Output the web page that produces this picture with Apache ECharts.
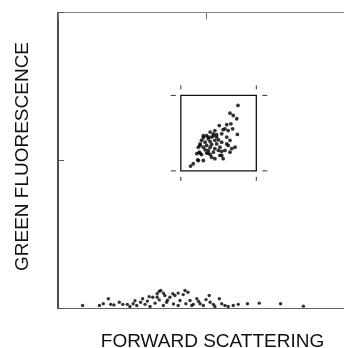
<!DOCTYPE html>
<html>
<head>
<meta charset="utf-8">
<script src="https://cdn.jsdelivr.net/npm/echarts@6/dist/echarts.min.js"></script>
<style>
  html, body { margin: 0; padding: 0; background: #fff; }
</style>
</head>
<body>
<div id="chart" style="width: 344px;height:348px;"></div>
<script type="text/javascript">
	// gated cell population (x = forward scatter, y = green fluorescence)
	var clusterPts = [
		[60.8, 68.6], [58.1, 66.0], [59.2, 65.2], [60.4, 64.1], [58.4, 62.4], [57.0, 62.1],
		[54.5, 61.8], [59.0, 60.7], [57.5, 60.1], [55.8, 60.4], [53.0, 60.1], [51.4, 59.6],
		[55.3, 59.0], [53.6, 58.7], [52.5, 58.4], [50.2, 58.4], [51.9, 57.9], [49.1, 57.7],
		[50.8, 57.3], [54.2, 57.0], [53.0, 56.8], [51.4, 56.4], [49.7, 56.2], [48.5, 56.8],
		[58.1, 56.8], [60.6, 58.8], [57.0, 55.6], [55.3, 56.2], [53.6, 55.6], [51.9, 55.4],
		[50.2, 55.1], [48.0, 55.1], [49.1, 54.5], [51.4, 54.5], [53.0, 54.0], [54.7, 54.5],
		[57.5, 55.1], [58.7, 54.0], [56.4, 53.4], [55.3, 53.1], [50.8, 53.4], [49.7, 53.6],
		[47.7, 52.8], [52.5, 52.8], [51.4, 52.0], [50.2, 52.5], [58.1, 52.8], [48.5, 52.0],
		[46.9, 52.3], [54.7, 51.7], [51.9, 51.1], [53.0, 50.6], [55.8, 50.6], [47.2, 50.2],
		[49.1, 50.0], [44.8, 48.1], [45.7, 48.9], [47.4, 54.5], [59.8, 54.5], [56.4, 60.7],
		[52.5, 59.0], [50.8, 57.9], [57.0, 57.9], [48.0, 55.6], [54.2, 53.4], [50.8, 52.5],
		[55.3, 51.7], [49.1, 58.4], [47.4, 50.0], [48.0, 52.5], [53.6, 57.9]
	];
	// debris near the baseline
	var debrisPts = [
		[8.3, 1.0], [14.0, 1.0], [15.3, 1.6], [17.0, 3.3], [17.8, 1.4], [20.7, 2.1], [21.9, 1.4],
		[23.4, 1.4], [24.3, 0.7], [25.4, 1.6], [26.6, 1.0], [27.9, 2.1], [28.6, 3.3], [29.4, 1.4],
		[30.2, 2.5], [31.1, 0.7], [32.0, 3.8], [32.8, 1.8], [33.5, 5.0], [34.2, 2.9], [34.7, 6.1],
		[35.6, 1.0], [36.1, 4.4], [36.7, 2.1], [37.8, 3.8], [38.8, 5.0], [39.5, 4.4], [40.6, 1.0],
		[41.2, 2.7], [42.3, 4.7], [42.9, 6.1], [43.2, 1.6], [44.6, 2.7], [45.2, 1.0], [45.7, 1.4],
		[46.9, 3.3], [48.0, 1.6], [49.1, 1.0], [51.1, 4.4], [51.4, 2.1], [52.5, 1.4], [53.0, 0.7],
		[54.5, 3.3], [55.3, 1.6], [56.4, 1.0], [57.5, 0.7], [59.2, 1.0], [60.9, 1.4], [64.0, 1.6],
		[68.0, 1.8], [75.2, 1.6], [82.9, 0.8], [34.2, 5.8], [35.6, 5.2], [40.6, 5.2], [43.9, 5.5],
		[33.5, 3.8], [30.8, 4.0], [37.0, 2.8], [39.0, 1.5], [47.5, 2.4], [50.0, 3.0], [26.0, 2.6],
		[18.9, 1.2]
	];
	// gate rectangle: [xMin, xMax, yMin, yMax]
	var gateBox = [41.5, 67, 46.5, 72];
	var axisMin = 0, axisMax = 100, axisStep = 50;
	var xTitle = 'FORWARD SCATTERING';
	var yTitle = 'GREEN FLUORESCENCE';

	var chart = echarts.init(document.getElementById('chart'), null, { renderer: 'canvas' });

	var titleFont = {
		fontFamily: 'Liberation Sans',
		fontSize: 19,
		color: '#111'
	};

	function renderGate(params, api) {
		var p0 = api.coord([gateBox[0], gateBox[3]]);
		var p1 = api.coord([gateBox[1], gateBox[2]]);
		var x0 = p0[0], y0 = p0[1], x1 = p1[0], y1 = p1[1];
		var tickStyle = { stroke: '#333', lineWidth: 1 };
		var ticks = [];
		// short marks outside each corner
		[x0, x1].forEach(function(x) {
			ticks.push([x, y0 - 10, x, y0 - 6]);
			ticks.push([x, y1 + 6, x, y1 + 10]);
		});
		[y0, y1].forEach(function(y) {
			ticks.push([x0 - 10, y, x0 - 5, y]);
			ticks.push([x1 + 6, y, x1 + 11, y]);
		});
		var children = [{
			type: 'rect',
			shape: { x: x0, y: y0, width: x1 - x0, height: y1 - y0 },
			style: { fill: 'none', stroke: '#111', lineWidth: 1.3 }
		}];
		ticks.forEach(function(t) {
			children.push({
				type: 'line',
				shape: { x1: t[0], y1: t[1], x2: t[2], y2: t[3] },
				style: tickStyle
			});
		});
		return { type: 'group', children: children };
	}

	chart.setOption({
		animation: false,
		grid: { left: 58, top: 12.5, width: 296, height: 296, outerBoundsMode: 'none' },
		xAxis: [{
			type: 'value',
			min: axisMin, max: axisMax, interval: axisStep,
			name: xTitle,
			nameLocation: 'middle',
			nameGap: 24,
			nameTextStyle: Object.assign({ padding: [0, 0, 0, 13] }, titleFont),
			axisLine: { lineStyle: { color: '#666', width: 1.2 } },
			axisTick: { show: false },
			axisLabel: { show: false },
			splitLine: { show: false }
		}, {
			type: 'value',
			position: 'top',
			min: axisMin, max: axisMax, interval: axisStep,
			axisLine: { lineStyle: { color: '#888', width: 1 } },
			axisTick: { show: true, inside: true, length: 7, lineStyle: { color: '#777' } },
			axisLabel: { show: false },
			splitLine: { show: false }
		}],
		yAxis: {
			type: 'value',
			min: axisMin, max: axisMax, interval: axisStep,
			name: yTitle,
			nameLocation: 'middle',
			nameGap: 26,
			nameTextStyle: Object.assign({ padding: [0, 0, 0, 8] }, titleFont),
			axisLine: { lineStyle: { color: '#111', width: 1.5 } },
			axisTick: { show: true, inside: true, length: 6, lineStyle: { color: '#555' } },
			axisLabel: { show: false },
			splitLine: { show: false }
		},
		series: [{
			type: 'scatter',
			data: clusterPts,
			symbolSize: 3.8,
			itemStyle: { color: '#000' }
		}, {
			type: 'scatter',
			data: debrisPts,
			symbolSize: 3.4,
			itemStyle: { color: '#000' }
		}, {
			type: 'custom',
			data: [gateBox],
			renderItem: renderGate,
			silent: true
		}]
	});
</script>
</body>
</html>
